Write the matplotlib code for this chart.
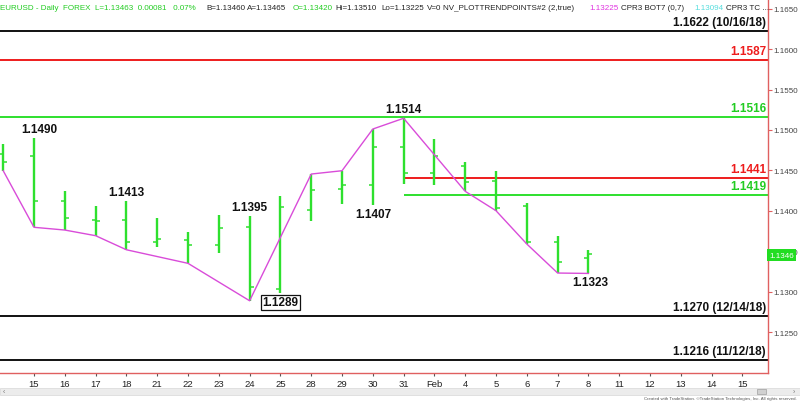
import matplotlib
matplotlib.use('Agg')
import matplotlib.pyplot as plt
import matplotlib.transforms as mtransforms
from matplotlib.patches import Rectangle
import numpy as np

plt.rcParams['font.family'] = ['Liberation Sans', 'DejaVu Sans']

# ---------------- data ----------------
bar_pos = list(range(-1, 19))   # trading-day slots (Jan 14 .. Feb 8)
bar_days = ['14', '15', '16', '17', '18', '21', '22', '23', '24', '25', '28', '29',
            '30', '31', 'Feb 1', '4', '5', '6', '7', '8']
opens = [1.14700, 1.14674, 1.14125, 1.13886, 1.13886, 1.13610, 1.13638, 1.13583,
         1.13803, 1.13032, 1.14010, 1.14270, 1.14323, 1.14793, 1.14468, 1.14558,
         1.14365, 1.14056, 1.13610, 1.13420]
highs = [1.14827, 1.14897, 1.14249, 1.14056, 1.14125, 1.13907, 1.13734, 1.13944,
         1.13939, 1.14179, 1.14455, 1.14496, 1.15012, 1.15145, 1.14889, 1.14608,
         1.14496, 1.14097, 1.13684, 1.13510]
lows = [1.14496, 1.13796, 1.13762, 1.13692, 1.13518, 1.13548, 1.13350, 1.13484,
        1.12887, 1.12979, 1.13870, 1.14084, 1.14070, 1.14332, 1.14319, 1.14241,
        1.14001, 1.13589, 1.13230, 1.13225]
closes = [1.14600, 1.14125, 1.13911, 1.13874, 1.13618, 1.13651, 1.13577, 1.13793,
          1.13053, 1.14043, 1.14257, 1.14319, 1.14793, 1.14468, 1.14675, 1.14360,
          1.14035, 1.13610, 1.13370, 1.13463]
trend = [1.14496, 1.13796, 1.13762, 1.13692, 1.13518, None, 1.13350, None,
         1.12887, None, 1.14455, 1.14496, 1.15012, 1.15145, None, 1.14241,
         1.14001, 1.13589, 1.13230, 1.13225]

xtick_labels = ['15', '16', '17', '18', '21', '22', '23', '24', '25', '28', '29', '30',
                '31', 'Feb', '4', '5', '6', '7', '8', '11', '12', '13', '14', '15']

swing_idx = [0, 3, 7, 8, 11, 12, 18]
swing_text = ['1.1490', '1.1413', '1.1395', '1.1289', '1.1407', '1.1514', '1.1323']
swing_side = ['high', 'high', 'high', 'lowbox', 'low', 'high', 'low']

levels = [1.1622, 1.1587, 1.1516, 1.1441, 1.1419, 1.1270, 1.1216]
level_text = ['1.1622 (10/16/18)', '1.1587', '1.1516', '1.1441', '1.1419',
              '1.1270 (12/14/18)', '1.1216 (11/12/18)']
level_kind = ['black', 'red', 'green', 'red', 'green', 'black', 'black']
level_start = [None, None, None, 12, 12, None, None]

last_price = '1.1346'

# ---------------- style ----------------
GREEN = '#2ee02e'
GREEN_TXT = '#22cc22'
RED = '#ee1c1c'
MAGENTA = '#d94cd9'
AXRED = '#e06060'
col = {'black': '#111111', 'red': RED, 'green': GREEN}
tcol = {'black': '#111111', 'red': RED, 'green': GREEN_TXT}

fig = plt.figure(figsize=(8, 4.02), dpi=100)
ax = fig.add_axes([0, 28 / 402, 768 / 800, 374 / 402])
ax.set_xlim(-1.104, 23.83)
ax.set_ylim(1.11993, 1.16621)

# levels
for lv, kind, st in zip(levels, level_kind, level_start):
    x0 = ax.get_xlim()[0] if st is None else bar_pos[st + 1]
    ax.hlines(lv, x0, ax.get_xlim()[1], color=col[kind], lw=1.4, zorder=2)

# OHLC bars
tk = 0.13
ax.vlines(bar_pos, lows, highs, color=GREEN, lw=1.7, zorder=3)
ax.hlines(opens, np.array(bar_pos) - tk, bar_pos, color=GREEN, lw=1.1, zorder=3)
ax.hlines(closes, bar_pos, np.array(bar_pos) + tk, color=GREEN, lw=1.1, zorder=3)

# trend points line
tx = [p for p, v in zip(bar_pos, trend) if v is not None]
ty = [v for v in trend if v is not None]
ax.plot(tx, ty, color=MAGENTA, lw=1.0, zorder=4)

# swing labels
for i, t, s in zip(swing_idx, swing_text, swing_side):
    k = i + 1
    xo = 5 if i == 0 else (2 if i == 18 else 0)
    if s == 'high':
        ax.annotate(t, (bar_pos[k], highs[k]), xytext=(xo, 3), textcoords='offset pixels',
                    ha='center', va='bottom', fontsize=8.5, fontweight='bold', color='#111111', zorder=6)
    elif s == 'low':
        ax.annotate(t, (bar_pos[k], lows[k]), xytext=(xo, -3), textcoords='offset pixels',
                    ha='center', va='top', fontsize=8.5, fontweight='bold', color='#111111', zorder=6)
    else:
        ax.annotate(t, (bar_pos[k], lows[k]), xytext=(0, -3), textcoords='offset pixels',
                    ha='center', va='top', fontsize=8.5, fontweight='bold', color='#111111', zorder=6,
                    bbox=dict(boxstyle='square,pad=0.15', fc='white', ec='#111111', lw=0.9))

# level labels
trans = mtransforms.blended_transform_factory(ax.transAxes, ax.transData)
for lv, t, kind in zip(levels, level_text, level_kind):
    ax.annotate(t, (1.0, lv), xycoords=trans, xytext=(-2, 3), textcoords='offset pixels',
                ha='right', va='bottom', fontsize=8.5, fontweight='bold', color=tcol[kind], zorder=6)

# axes styling
for s in ['left', 'top']:
    ax.spines[s].set_visible(False)
for s in ['right', 'bottom']:
    ax.spines[s].set_color(AXRED)
    ax.spines[s].set_linewidth(1.0)
ax.set_xticks(range(len(xtick_labels)))
ax.set_xticklabels(xtick_labels)
ax.tick_params(axis='x', direction='out', length=2.5, width=0.8, color='#555555',
               labelsize=6.8, pad=1.5, labelcolor='#222222')
ax.yaxis.tick_right()
yt = np.arange(1.125, 1.16501, 0.005)
ax.set_yticks(yt)
ax.set_yticklabels(['%.4f' % v for v in yt])
ax.tick_params(axis='y', direction='out', length=3, width=0.8, color=AXRED,
               labelsize=5.8, pad=1, labelcolor='#444444')

# last price box
fig.text(769 / 800, 1 - 256 / 402, last_price, ha='left', va='center', fontsize=5.8,
         color='white', zorder=10,
         bbox=dict(boxstyle='square,pad=0.3', fc='#22dd22', ec='none'))

# header
hy = 1 - 8 / 402
header = [
    (0, 'EURUSD - Daily  FOREX  L=1.13463  0.00081   0.07%', '#22cc22'),
    (206, 'B=1.13460', '#222222'),
    (247, 'A=1.13465', '#222222'),
    (293, 'O=1.13420', '#22cc22'),
    (335, 'Hi=1.13510', '#222222'),
    (381, 'Lo=1.13225', '#222222'),
    (427, 'V=0', '#222222'),
    (443, 'NV_PLOTTRENDPOINTS#2 (2,true)', '#222222'),
    (589, '1.13225', '#e033e0'),
    (621, 'CPR3 BOT7 (0,7)', '#222222'),
    (694, '1.13094', '#55dddd'),
    (726, 'CPR3 TC ...', '#222222'),
]
for x, t, c in header:
    fig.text(x / 800, hy, t, ha='left', va='center', fontsize=5.8, color=c)

# scrollbar
fig.patches.append(Rectangle((0, 1 - 396 / 402), 1, 7 / 402, transform=fig.transFigure,
                             fc='#ececec', ec='#d8d8d8', lw=0.5))
fig.patches.append(Rectangle((757 / 800, 1 - 395 / 402), 9 / 800, 5 / 402, transform=fig.transFigure,
                             fc='#d0d0d0', ec='#a0a0a0', lw=0.5))
fig.text(3 / 800, 1 - 392.5 / 402, '‹', fontsize=5, color='#777777', va='center')
fig.text(793 / 800, 1 - 392.5 / 402, '›', fontsize=5, color='#777777', va='center')
fig.text(797 / 800, 1 - 399 / 402,
         'Created with TradeStation. ©TradeStation Technologies, Inc. All rights reserved.',
         ha='right', va='center', fontsize=3.2, color='#555555')

fig.savefig('out.png', dpi=100, facecolor='white')
